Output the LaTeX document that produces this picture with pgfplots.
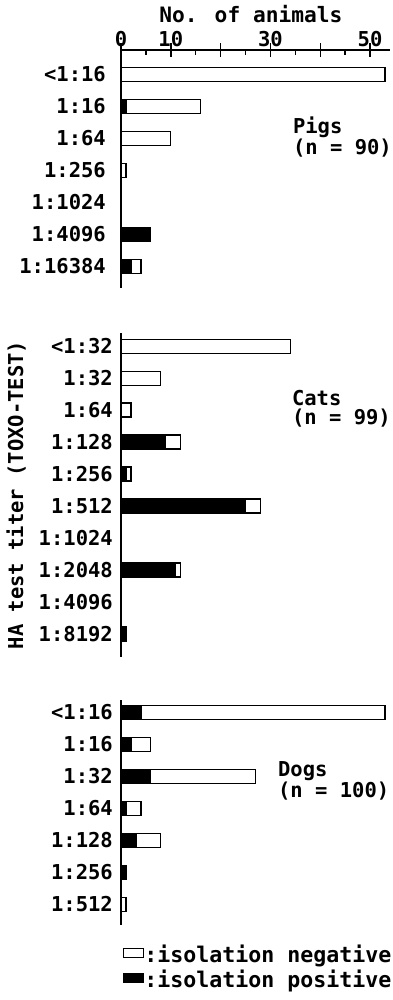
\documentclass[border=0pt]{standalone}
\usepackage{pgfplots}
\pgfplotsset{compat=1.18}
\usepackage{pgfplotstable}
\usepackage{fontspec}
\setmainfont{DejaVu Sans Mono}
\newcommand{\ff}{\fontsize{20.5}{24}\selectfont\bfseries}
\newcommand{\fn}{\fontsize{20.5}{19}\selectfont\bfseries}
\newcommand{\fl}{\fontsize{21.6}{24}\selectfont\bfseries}

\pgfplotstableread{
idx pos neg
0 0 53
1 1 15
2 0 10
3 0 1
4 0 0
5 6 0
6 2 2
}\pigs
\pgfplotstableread{
idx pos neg
0 0 34
1 0 8
2 0 2
3 9 3
4 1 1
5 25 3
6 0 0
7 11 1
8 0 0
9 1 0
}\cats
\pgfplotstableread{
idx pos neg
0 4 49
1 2 4
2 6 21
3 1 3
4 3 5
5 1 0
6 0 1
}\dogs

\pgfplotsset{
  panel/.style={
    scale only axis, width=269pt,
    xmin=0, xmax=54,
    y dir=reverse,
    xbar stacked, bar width=14pt,
    axis y line*=left,
    axis line style={line width=1.8pt, black},
    ytick style={draw=none},
    yticklabel style={font=\ff, inner sep=0pt, anchor=east, xshift=-8pt},
    /pgf/number format/assume math mode=true,
    font=\ff,
    clip=false,
  },
  posbar/.style={fill=black, draw=black, line width=1.2pt},
  negbar/.style={fill=white, draw=black, line width=1.2pt},
}

\begin{document}
\begin{tikzpicture}
\useasboundingbox (0,0) rectangle (393pt,-1000pt);

% Pigs
\begin{axis}[panel,
  at={(121pt,-50pt)}, anchor=north west,
  height=238pt, ymin=-0.76, ymax=6.68,
  axis x line*=top,
  xtick={0,10,20,30,40,50},
  xticklabels={0,10,,30,,50},
  minor xtick={5,15,25,35,45},
  tick align=center,
  major tick length=14pt,
  minor tick length=5pt,
  every minor tick/.append style={yshift=-2.5pt},
  every tick/.append style={line width=1.5pt, black},
  xticklabel style={font=\ff, inner sep=0pt, yshift=-4pt},
  xlabel={No. of animals},
  xlabel style={at={(axis description cs:0.483,1)}, anchor=south, inner sep=0pt, yshift=27pt, font=\fontsize{21.2}{24}\selectfont\bfseries},
  ytick={0,...,6},
  yticklabels={<1:16,1:16,1:64,1:256,1:1024,1:4096,1:16384},
]
\addplot[posbar] table[x=pos,y=idx]{\pigs};
\addplot[negbar] table[x=neg,y=idx]{\pigs};
\node[anchor=north west, align=left, inner sep=0pt, font=\fn] at (axis cs:34.5,1.33) {Pigs\\(n = 90)};
\end{axis}

% Cats
\begin{axis}[panel,
  at={(121pt,-333pt)}, anchor=north west,
  height=324pt, ymin=-0.41, ymax=9.72,
  axis x line=none,
  ytick={0,...,9},
  yticklabels={<1:32,1:32,1:64,1:128,1:256,1:512,1:1024,1:2048,1:4096,1:8192},
  ylabel={HA test titer (TOXO-TEST)},
  ylabel style={at={(axis description cs:-0.39,0.5)}, anchor=center, inner sep=0pt, font=\ff},
]
\addplot[posbar] table[x=pos,y=idx]{\cats};
\addplot[negbar] table[x=neg,y=idx]{\cats};
\node[anchor=north west, align=left, inner sep=0pt, font=\fn] at (axis cs:34.3,1.38) {Cats\\(n = 99)};
\end{axis}

% Dogs
\begin{axis}[panel,
  at={(121pt,-700pt)}, anchor=north west,
  height=225pt, ymin=-0.39, ymax=6.64,
  axis x line=none,
  ytick={0,...,6},
  yticklabels={<1:16,1:16,1:32,1:64,1:128,1:256,1:512},
  legend image code/.code={\draw[#1, line width=1.2pt] (0pt,-3pt) rectangle (20pt,6pt);},
  reverse legend,
  legend style={at={(0,0)}, anchor=north west, xshift=2pt, yshift=-20pt,
    draw=none, fill=none, inner sep=0pt, row sep=6pt,
    font=\fl, nodes={inner sep=0pt}},
  legend cell align=left,
]
\addplot[posbar] table[x=pos,y=idx]{\dogs};
\addlegendentry{:isolation positive}
\addplot[negbar] table[x=neg,y=idx]{\dogs};
\addlegendentry{:isolation negative}
\node[anchor=north west, align=left, inner sep=0pt, font=\fn] at (axis cs:31.5,1.54) {Dogs\\(n = 100)};
\end{axis}
\end{tikzpicture}
\end{document}
